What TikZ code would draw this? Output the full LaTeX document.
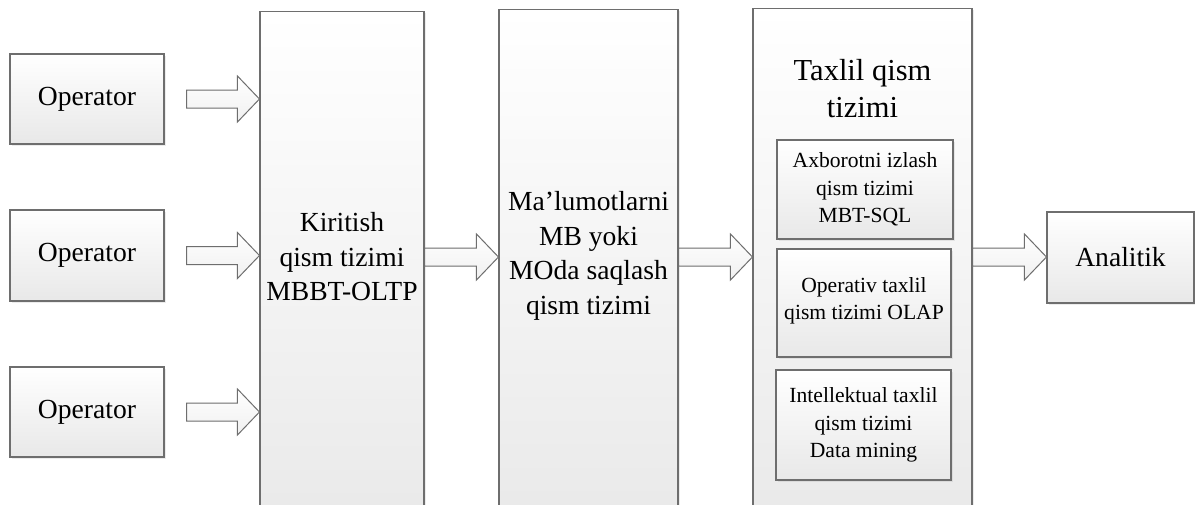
\documentclass[tikz,border=0pt]{standalone}
\usepackage{fontspec}
\setmainfont{Liberation Serif}
\usetikzlibrary{calc,shadows}
\definecolor{edge}{HTML}{6E6E6E}
\definecolor{shadebot}{HTML}{E8E8E8}
\definecolor{arrowbot}{HTML}{F0F0F0}
\tikzset{
  box/.style={draw=edge, line width=1.1pt, rectangle, inner sep=0pt,
    top color=white, bottom color=shadebot,
    drop shadow={opacity=0.15, shadow xshift=1.5pt, shadow yshift=-1.5pt}},
  maintext/.style={align=center, font=\fontsize{27.6}{34.5}\selectfont, inner sep=0pt},
  titletext/.style={align=center, font=\fontsize{30.5}{37}\selectfont, inner sep=0pt},
  smalltext/.style={align=center, font=\fontsize{21.6}{27.5}\selectfont, inner sep=0pt},
  blockarrow/.style={draw=edge, line width=1pt, top color=white, bottom color=arrowbot, line join=miter}
}
\newcommand\blockarr[2]{%
  \path[blockarrow] ($(#1)+(0,9)$) -- ($(#2)+(-22,9)$) -- ($(#2)+(-22,23)$) -- (#2)
    -- ($(#2)+(-22,-23)$) -- ($(#2)+(-22,-9)$) -- ($(#1)+(0,-9)$) -- cycle;}
\begin{document}
\begin{tikzpicture}[x=1pt,y=-1pt]
\useasboundingbox (0,0) rectangle (1195,504);
\clip (0,0) rectangle (1195,504);
\fill[white] (0,0) rectangle (1195,504);
% operators
\node[box, minimum width=154, minimum height=90] (op1) at (87,99) {};
\node[maintext] (op1t) at (op1) {Operator};
\node[box, minimum width=154, minimum height=91] (op2) at (87,255.5) {};
\node[maintext] (op2t) at (op2) {Operator};
\node[box, minimum width=154, minimum height=90] (op3) at (87,412) {};
\node[maintext] (op3t) at (op3) {Operator};
% tall blocks
\node[box, anchor=north, minimum width=164, minimum height=540] (kir) at (342,11) {};
\node[maintext] (kirt) at (342,257) {Kiritish\\qism tizimi\\MBBT-OLTP};
\node[box, anchor=north, minimum width=179, minimum height=540] (mb) at (588.5,9) {};
\node[maintext] (mbt) at (588.5,256) {Ma’lumotlarni\\MB yoki\\MOda saqlash\\qism tizimi};
\node[box, anchor=north, minimum width=219, minimum height=540] (tax) at (862.5,8) {};
\node[titletext] (taxt) at (862.5,89) {Taxlil qism\\tizimi};
% inner blocks
\node[box, minimum width=176, minimum height=99] (in1) at (865,189.5) {};
\node[smalltext] (in1t) at (in1) {Axborotni izlash\\qism tizimi\\MBT-SQL};
\node[box, minimum width=174, minimum height=108] (in2) at (864,303) {};
\node[smalltext] (in2t) at (864,301) {Operativ taxlil\\qism tizimi OLAP};
\node[box, minimum width=175, minimum height=110] (in3) at (863.5,425) {};
\node[smalltext] (in3t) at (in3) {Intellektual taxlil\\qism tizimi\\Data mining};
% analitik
\node[box, minimum width=147, minimum height=91] (ana) at (1120.5,257.5) {};
\node[maintext] (anat) at (ana) {Analitik};
% arrows
\coordinate (row) at (0,257);
\coordinate (a1s) at ($(op1.east)+(22,0)$);
\coordinate (a2s) at ($(op2.east)+(22,0)$);
\coordinate (a3s) at ($(op3.east)+(22,0)$);
\blockarr{a1s}{op1.east -| kir.west}
\blockarr{a2s}{op2.east -| kir.west}
\blockarr{a3s}{op3.east -| kir.west}
\blockarr{kir.east |- row}{mb.west |- row}
\blockarr{mb.east |- row}{tax.west |- row}
\blockarr{tax.east |- row}{ana.west |- row}
\end{tikzpicture}
\end{document}
